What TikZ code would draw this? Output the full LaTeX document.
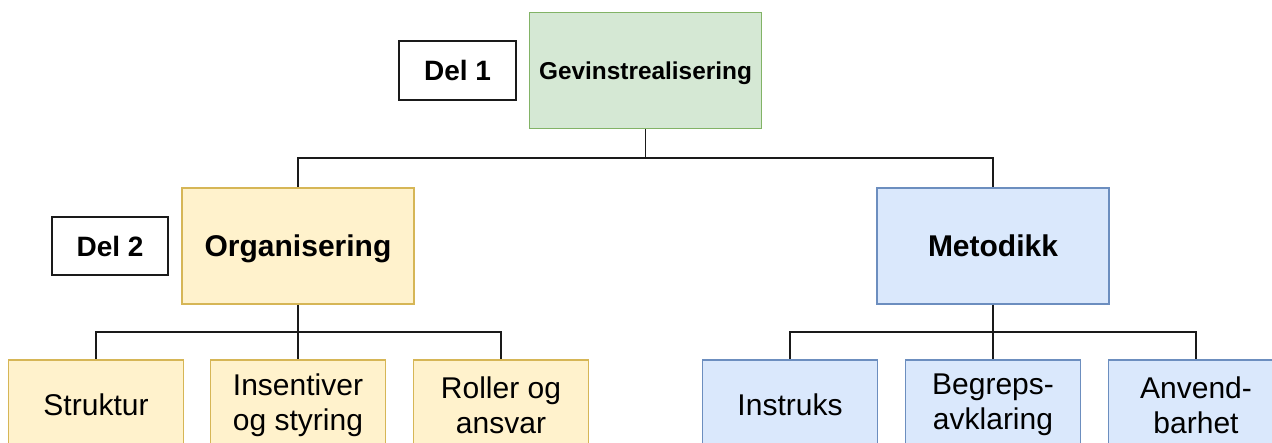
\documentclass[tikz,border=0pt]{standalone}
\usepackage{fontspec}
\setmainfont{Liberation Sans}
\definecolor{gfill}{HTML}{D5E8D4}
\definecolor{gdraw}{HTML}{82B366}
\definecolor{yfill}{HTML}{FFF2CC}
\definecolor{ydraw}{HTML}{D6B656}
\definecolor{bfill}{HTML}{DAE8FC}
\definecolor{bdraw}{HTML}{6C8EBF}
\definecolor{lin}{HTML}{1A1A1A}
\tikzset{
  box/.style={rectangle, inner sep=0pt, line width=1.3pt, align=center, text=black},
  bigbox/.style={box, minimum width=232pt, minimum height=116pt, text depth=0pt},
  smallbox/.style={box, minimum width=175pt, minimum height=90pt, font=\fontsize{30}{35}\selectfont},
  greenbox/.style={bigbox, fill=gfill, draw=gdraw, font=\bfseries\fontsize{24.4}{28}\selectfont},
  yellowbig/.style={bigbox, fill=yfill, draw=ydraw, font=\bfseries\fontsize{30}{35}\selectfont},
  bluebig/.style={bigbox, fill=bfill, draw=bdraw, font=\bfseries\fontsize{30}{35}\selectfont},
  yellowsmall/.style={smallbox, fill=yfill, draw=ydraw},
  bluesmall/.style={smallbox, fill=bfill, draw=bdraw},
  delbox/.style={box, draw=lin, fill=white, minimum width=117pt, minimum height=59pt, font=\bfseries\fontsize{28}{33}\selectfont},
  conn/.style={draw=lin, line width=1.5pt}
}
\begin{document}
\begin{tikzpicture}[x=1pt,y=-1pt]
\useasboundingbox (0,0) rectangle (1272,443);
\clip (0,0) rectangle (1272,443);
% top
\node[greenbox] (g) at (645.5,70.5) {Gevinstrealisering};
\node[delbox] (d1) at (457.5,70.5) {Del 1};
% middle
\node[yellowbig] (org) at (298,246) {Organisering};
\node[bluebig] (met) at (993,246) {Metodikk};
\node[delbox, minimum width=116pt, minimum height=58pt] (d2) at (110,246) {Del 2};
% bottom
\node[yellowsmall] (s1) at (96,405) {Struktur};
\node[yellowsmall] (s2) at (298,405) {Insentiver\\og styring};
\node[yellowsmall] (s3) at (501,405) {Roller og\\ansvar};
\node[bluesmall] (m1) at (790,405) {Instruks};
\node[bluesmall] (m2) at (993,405) {Begreps-\\avklaring};
\node[bluesmall] (m3) at (1196,405) {Anvend-\\barhet};
% connectors
\coordinate (j1) at (645.5,158);
\coordinate (j2) at (298,332);
\coordinate (j3) at (993,332);
\draw[conn] (g.south) -- (j1);
\draw[conn] (j1) -| (org.north);
\draw[conn] (j1) -| (met.north);
\draw[conn] (org.south) -- (j2);
\draw[conn] (j2) -| (s1.north);
\draw[conn] (j2) -| (s2.north);
\draw[conn] (j2) -| (s3.north);
\draw[conn] (met.south) -- (j3);
\draw[conn] (j3) -| (m1.north);
\draw[conn] (j3) -| (m2.north);
\draw[conn] (j3) -| (m3.north);
\end{tikzpicture}
\end{document}
